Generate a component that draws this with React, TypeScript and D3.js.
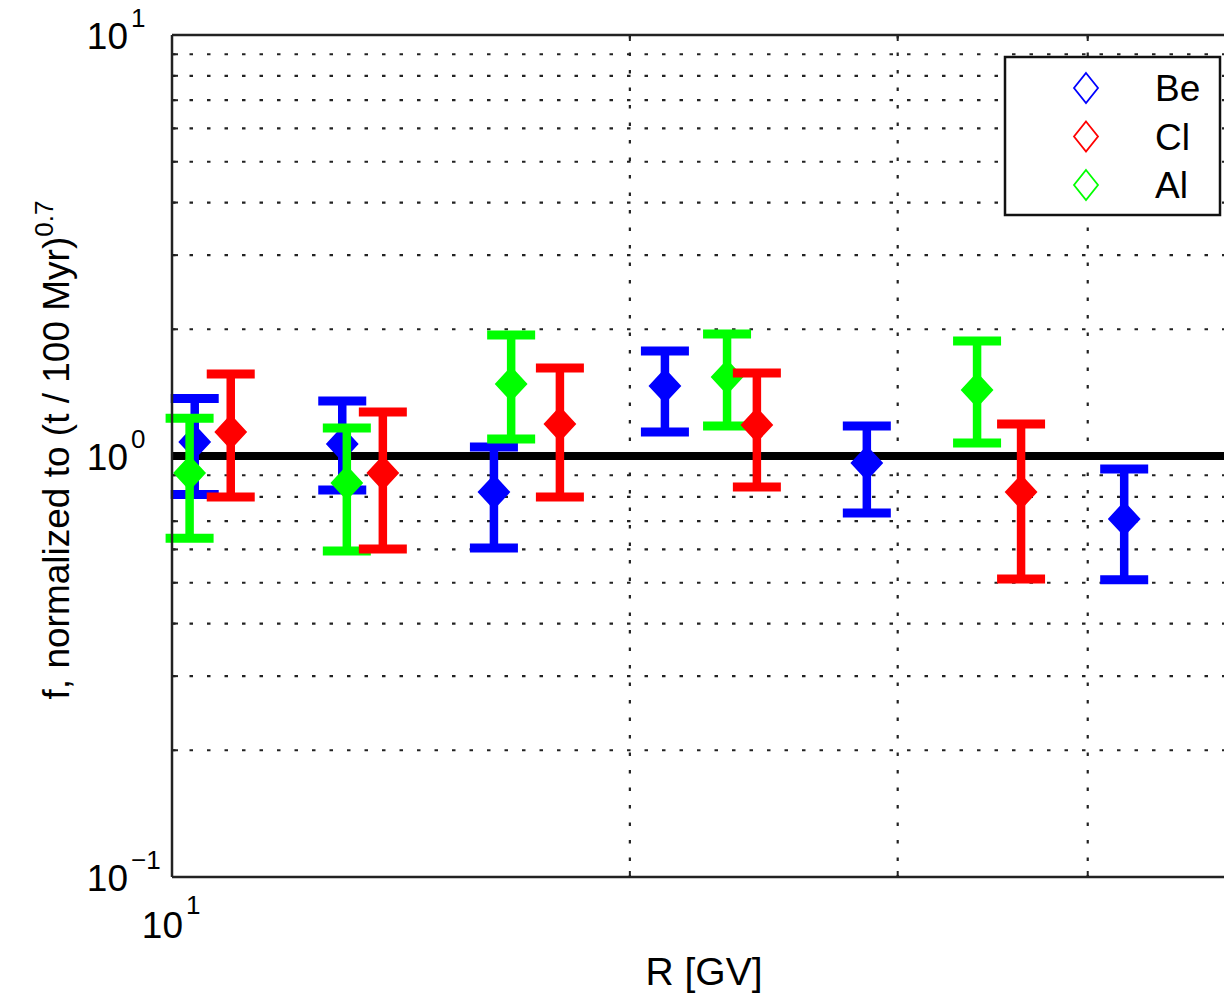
import React from "react";
import * as d3 from "d3";

// ---- data ----
const seriesNames = ["Be", "Cl", "Al"];
const seriesColors = ["#0000ff", "#ff0000", "#00ff00"];

const beR = [10.35, 12.94, 16.28, 21.09, 28.63, 42.27];
const beF = [1.08, 1.068, 0.821, 1.467, 0.962, 0.709];
const beLo = [0.81, 0.83, 0.605, 1.14, 0.732, 0.508];
const beHi = [1.37, 1.351, 1.05, 1.776, 1.178, 0.931];

const clR = [10.93, 13.76, 17.99, 24.24, 36.16];
const clF = [1.14, 0.911, 1.191, 1.185, 0.821];
const clLo = [0.799, 0.601, 0.799, 0.844, 0.51];
const clHi = [1.566, 1.272, 1.618, 1.575, 1.191];

const alR = [10.27, 13.03, 16.71, 23.17, 33.83];
const alF = [0.911, 0.863, 1.483, 1.54, 1.435];
const alLo = [0.638, 0.595, 1.098, 1.178, 1.074];
const alHi = [1.23, 1.166, 1.939, 1.949, 1.876];

const xDomain = [10, 100];
const yDomain = [0.1, 10];
const refLine = 1;
const xGrid = [20, 30, 40, 50, 60, 70, 80, 90];
const yGrid = [0.2, 0.3, 0.4, 0.5, 0.6, 0.7, 0.8, 0.9, 2, 3, 4, 5, 6, 7, 8, 9];

const W = 1224;
const H = 994;
const L = 172, T = 35, B = 877, R = 1693;
const FONT = "'Liberation Sans', Arial, Helvetica, sans-serif";

export default function App() {
  const x = d3.scaleLog().domain(xDomain).range([L, R]);
  const y = d3.scaleLog().domain(yDomain).range([B, T]);

  const series = [
    { r: beR, f: beF, lo: beLo, hi: beHi },
    { r: clR, f: clF, lo: clLo, hi: clHi },
    { r: alR, f: alF, lo: alLo, hi: alHi },
  ];
  const drawOrder = [0, 2, 1]; // Be, Al, Cl

  const capW = 24;
  const diamond = (cx: number, cy: number, hw: number, hh: number) =>
    `M${cx},${cy - hh}L${cx + hw},${cy}L${cx},${cy + hh}L${cx - hw},${cy}Z`;

  return (
    <svg
      width={W}
      height={H}
      style={{ position: "absolute", left: 0, top: 0, background: "#fff" }}
      fontFamily={FONT}
    >
      <rect width={W} height={H} fill="#fff" />
      {/* grid */}
      <g stroke="#222" strokeWidth={2.2} strokeDasharray="3.5,14" fill="none">
        {yGrid.map((v) => (
          <line key={"gy" + v} x1={L} x2={W} y1={y(v)} y2={y(v)} />
        ))}
        {xGrid.map((v) => (
          <line key={"gx" + v} x1={x(v)} x2={x(v)} y1={T} y2={B} />
        ))}
      </g>
      {/* ticks */}
      <g stroke="#222" strokeWidth={2}>
        {yGrid.concat([1]).map((v) => (
          <line key={"ty" + v} x1={L} x2={L + 6} y1={y(v)} y2={y(v)} />
        ))}
        {xGrid.map((v) => (
          <g key={"tx" + v}>
            <line x1={x(v)} x2={x(v)} y1={B} y2={B - 6} />
            <line x1={x(v)} x2={x(v)} y1={T} y2={T + 6} />
          </g>
        ))}
      </g>
      {/* reference line */}
      <line x1={L} x2={W} y1={y(refLine)} y2={y(refLine)} stroke="#000" strokeWidth={8} />
      {/* data */}
      {drawOrder.map((si) => {
        const s = series[si];
        const c = seriesColors[si];
        return (
          <g key={"s" + si} stroke={c} fill={c}>
            {s.r.map((rv, i) => {
              const cx = x(rv);
              const yl = y(s.lo[i]);
              const yh = y(s.hi[i]);
              const yc = y(s.f[i]);
              return (
                <g key={i}>
                  <line x1={cx} x2={cx} y1={yh} y2={yl} strokeWidth={8.5} />
                  <line x1={cx - capW} x2={cx + capW} y1={yh} y2={yh} strokeWidth={9} />
                  <line x1={cx - capW} x2={cx + capW} y1={yl} y2={yl} strokeWidth={9} />
                  <path d={diamond(cx, yc, 13, 14)} strokeWidth={5} strokeLinejoin="miter" />
                </g>
              );
            })}
          </g>
        );
      })}
      {/* axes frame */}
      <g stroke="#222" strokeWidth={2.5} fill="none">
        <line x1={L} x2={L} y1={T} y2={B} />
        <line x1={L} x2={W} y1={T} y2={T} />
        <line x1={L} x2={W} y1={B} y2={B} />
      </g>
      {/* y tick labels */}
      <g fill="#000" fontSize={37}>
        {[10, 1, 0.1].map((v) => {
          const e = Math.round(Math.log10(v));
          const yy = y(v);
          return (
            <g key={"yl" + v}>
              <text x={128} y={yy + 14} textAnchor="end">10</text>
              <text x={131} y={yy - 8} fontSize={26}>{e < 0 ? "\u2212" + Math.abs(e) : String(e)}</text>
            </g>
          );
        })}
      </g>
      {/* x tick label */}
      <g fill="#000" fontSize={37}>
        <text x={x(10) + 11} y={938} textAnchor="end">10</text>
        <text x={x(10) + 14} y={914} fontSize={26}>1</text>
      </g>
      {/* axis labels */}
      <text x={704} y={985} textAnchor="middle" fontSize={39} fill="#000">R [GV]</text>
      <text
        transform="translate(69,450) rotate(-90)"
        textAnchor="middle"
        fontSize={37}
        fill="#000"
      >
        f, normalized to (t / 100 Myr)
        <tspan fontSize={26} dy={-16}>0.7</tspan>
      </text>
      {/* legend */}
      <rect x={1005} y={57} width={215} height={158} fill="#fff" stroke="#111" strokeWidth={2.5} />
      {seriesNames.map((n, i) => {
        const ly = 88 + i * 48.5;
        return (
          <g key={n}>
            <path d={diamond(1086, ly, 12, 15)} fill="none" stroke={seriesColors[i]} strokeWidth={1.8} />
            <text x={1155} y={ly + 13} fontSize={37} fill="#000">{n}</text>
          </g>
        );
      })}
    </svg>
  );
}
